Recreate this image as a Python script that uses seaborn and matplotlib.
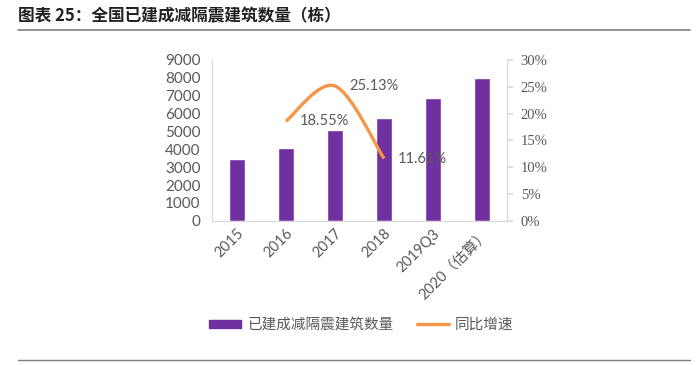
import numpy as np
import pandas as pd
import matplotlib
matplotlib.use("Agg")
import matplotlib.pyplot as plt
from matplotlib.path import Path
from matplotlib.patches import PathPatch, Patch
from matplotlib.lines import Line2D
import seaborn as sns

# --- data ---
categories = ["2015", "2016", "2017", "2018", "2019Q3", "2020（估算）"]
buildings = [3450, 4080, 5080, 5750, 6880, 8000]
growth_years = ["2016", "2017", "2018"]
growth_pct = [18.55, 25.13, 11.61]

BAR_COLOR = "#7030A0"
LINE_COLOR = "#F79646"
TEXT_GRAY = "#595959"
AXIS_GRAY = "#D9D9D9"
SANS = ["Lato", "Noto Sans CJK SC", "DejaVu Sans"]

sns.set_theme(style="white")
plt.rcParams["font.family"] = ["Noto Sans CJK SC", "DejaVu Sans"]

fig = plt.figure(figsize=(6.96, 3.65), dpi=100)
ax = fig.add_axes([0.305, 0.395, 0.423, 0.441])

df = pd.DataFrame({"cat": categories, "val": buildings})
sns.barplot(data=df, x="cat", y="val", color=BAR_COLOR, width=0.33,
            saturation=1, ax=ax)
ax.set_ylim(0, 9000)
ax.set_yticks(range(0, 9001, 1000))
ax.set_xlim(-0.5, len(categories) - 0.5)
ax.set_xlabel("")
ax.set_ylabel("")
ax.tick_params(axis="y", labelsize=11, colors=TEXT_GRAY, length=0, pad=8.5)
ax.tick_params(axis="x", labelsize=10.5, colors=TEXT_GRAY, length=0, pad=4)
for lab in ax.get_yticklabels():
    lab.set_family(SANS)
for lab in ax.get_xticklabels():
    lab.set_family(SANS)
    lab.set_rotation(45)
    lab.set_ha("right")
    lab.set_rotation_mode("anchor")
ax.spines["top"].set_visible(False)
for s in ["left", "bottom", "right"]:
    ax.spines[s].set_color(AXIS_GRAY)
    ax.spines[s].set_linewidth(0.8)

ax2 = ax.twinx()
ax2.set_ylim(0, 30)
ax2.set_yticks(range(0, 31, 5))
ax2.set_yticklabels([f"{v}%" for v in range(0, 31, 5)],
                    family="Liberation Serif")
ax2.tick_params(axis="y", labelsize=10.5, colors=TEXT_GRAY, length=4,
                direction="out", pad=6, color=AXIS_GRAY)
for s in ["top", "left", "bottom"]:
    ax2.spines[s].set_visible(False)
ax2.spines["right"].set_color(AXIS_GRAY)
ax2.spines["right"].set_linewidth(0.8)
ax2.grid(False)

# smoothed growth line (Bezier through the data points)
xs = [categories.index(y) for y in growth_years]
pts = list(zip(xs, growth_pct))
verts = [pts[0]]
codes = [Path.MOVETO]
for i in range(len(pts) - 1):
    p0 = pts[max(i - 1, 0)]
    p1 = pts[i]
    p2 = pts[i + 1]
    p3 = pts[min(i + 2, len(pts) - 1)]
    c1 = (p1[0] + (p2[0] - p0[0]) / 6, p1[1] + (p2[1] - p0[1]) / 6)
    c2 = (p2[0] - (p3[0] - p1[0]) / 6, p2[1] - (p3[1] - p1[1]) / 6)
    verts += [c1, c2, p2]
    codes += [Path.CURVE4] * 3
ax2.add_patch(PathPatch(Path(verts, codes), facecolor="none",
                        edgecolor=LINE_COLOR, lw=2.4, capstyle="butt"))

for x, v in zip(xs, growth_pct):
    ax2.annotate(f"{v:.2f}%", (x, v), xytext=(10, 0),
                 textcoords="offset points", ha="left", va="center",
                 fontsize=10.5, color=TEXT_GRAY, family=SANS)

# title and rules
fig.text(0.026, 0.955, "图表 25：全国已建成减隔震建筑数量（栋）",
         fontsize=12, fontweight="bold", color="#222222", va="center")
fig.add_artist(Line2D([0.026, 0.992], [0.918, 0.918], color="#7F7F7F",
                      lw=1.2, transform=fig.transFigure))
fig.add_artist(Line2D([0.026, 0.992], [0.014, 0.014], color="#7F7F7F",
                      lw=1.0, transform=fig.transFigure))

handles = [Patch(facecolor=BAR_COLOR, edgecolor=BAR_COLOR),
           Line2D([0], [0], color=LINE_COLOR, lw=2.4)]
leg = fig.legend(handles, ["已建成减隔震建筑数量", "同比增速"],
                 loc="center", bbox_to_anchor=(0.519, 0.11), ncol=2,
                 frameon=False, fontsize=10.5, handlelength=2.2,
                 handleheight=0.5, columnspacing=1.6, handletextpad=0.4)
for t in leg.get_texts():
    t.set_color(TEXT_GRAY)

fig.savefig("out.png", dpi=100)
